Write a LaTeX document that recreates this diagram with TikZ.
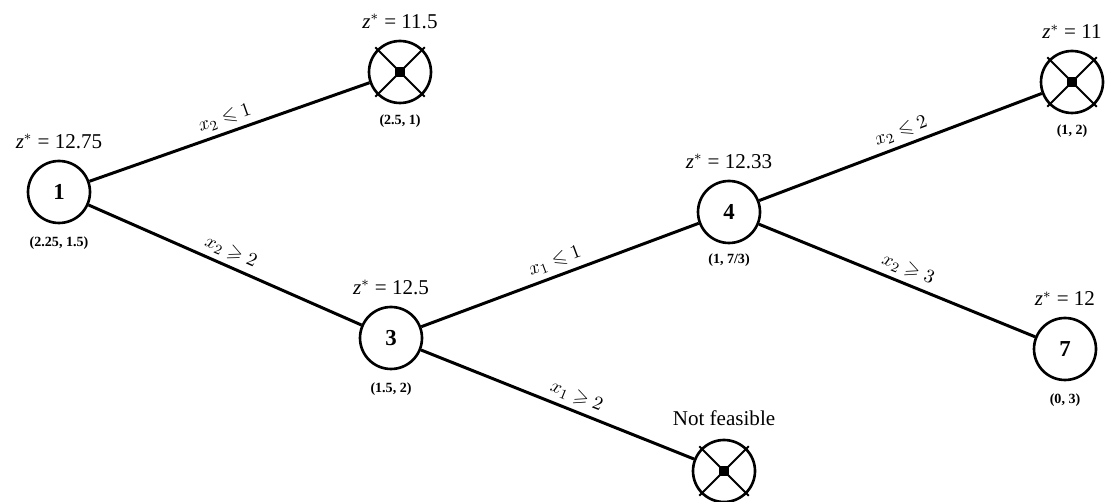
\documentclass[tikz,border=0pt]{standalone}
\usepackage{amssymb}
\usepackage{fontspec}
\setmainfont{Liberation Serif}
\usetikzlibrary{positioning}

\tikzset{
  bbnode/.style={circle, draw, line width=1.5pt, minimum size=1.24cm,
    inner sep=0pt, font=\bfseries\fontsize{13}{15}\selectfont},
  cross/.style={line width=1.1pt},
  branch/.style={line width=1.7pt},
  zval/.style={font=\fontsize{12}{14}\selectfont, inner sep=1pt},
  sol/.style={font=\bfseries\fontsize{8}{10}\selectfont, inner sep=1pt},
  cut/.style={midway, above, sloped, font=\fontsize{11}{13}\selectfont,
    inner sep=3pt},
}
\newcommand{\zstar}{\textit{z}$^{*}$ = }

\begin{document}
\begin{tikzpicture}[x=0.02cm, y=-0.02cm]
  \useasboundingbox (0,0) rectangle (1111,502);

  % Nodes of the tree
  \node[bbnode] (n1) at (59,192) {1};
  \node[bbnode] (n2) at (400,72) {};
  \node[bbnode] (n3) at (391,338) {3};
  \node[bbnode] (n4) at (729,212) {4};
  \node[bbnode] (n5) at (724,471) {};
  \node[bbnode] (n6) at (1072,82) {};
  \node[bbnode] (n7) at (1065,349) {7};

  % Fathomed nodes get crossed out
  \foreach \n in {n2,n5,n6} {
    \draw[cross] (\n.center) ++(45:35) -- ++(225:70);
    \draw[cross] (\n.center) ++(135:35) -- ++(-45:70);
    \fill (\n.center) ++(-5,-5) rectangle ++(10,10);
  }

  % Branches with their constraints
  \draw[branch] (n1) -- node[cut] {$x_2 \leqslant 1$} (n2);
  \draw[branch] (n1) -- node[cut] {$x_2 \geqslant 2$} (n3);
  \draw[branch] (n3) -- node[cut] {$x_1 \leqslant 1$} (n4);
  \draw[branch] (n3) -- node[cut, pos=0.55] {$x_1 \geqslant 2$} (n5);
  \draw[branch] (n4) -- node[cut, pos=0.52] {$x_2 \leqslant 2$} (n6);
  \draw[branch] (n4) -- node[cut, pos=0.52] {$x_2 \geqslant 3$} (n7);

  % Objective values
  \node[zval, above=5pt of n1] (z1) {\zstar 12.75};
  \node[zval, above=5pt of n2] (z2) {\zstar 11.5};
  \node[zval, above=5pt of n3] (z3) {\zstar 12.5};
  \node[zval, above=5pt of n4] (z4) {\zstar 12.33};
  \node[zval, above=5pt of n6] (z6) {\zstar 11};
  \node[zval, above=5pt of n7] (z7) {\zstar 12};
  \node[zval, above=6pt of n5] (z5) {Not feasible};

  % LP solutions
  \node[sol, below=6pt of n1] (s1) {(2.25, 1.5)};
  \node[sol, below=5pt of n2] (s2) {(2.5, 1)};
  \node[sol, below=6pt of n3] (s3) {(1.5, 2)};
  \node[sol, below=4pt of n4] (s4) {(1, 7/3)};
  \node[sol, below=5pt of n6] (s6) {(1, 2)};
  \node[sol, below=6pt of n7] (s7) {(0, 3)};
\end{tikzpicture}
\end{document}
